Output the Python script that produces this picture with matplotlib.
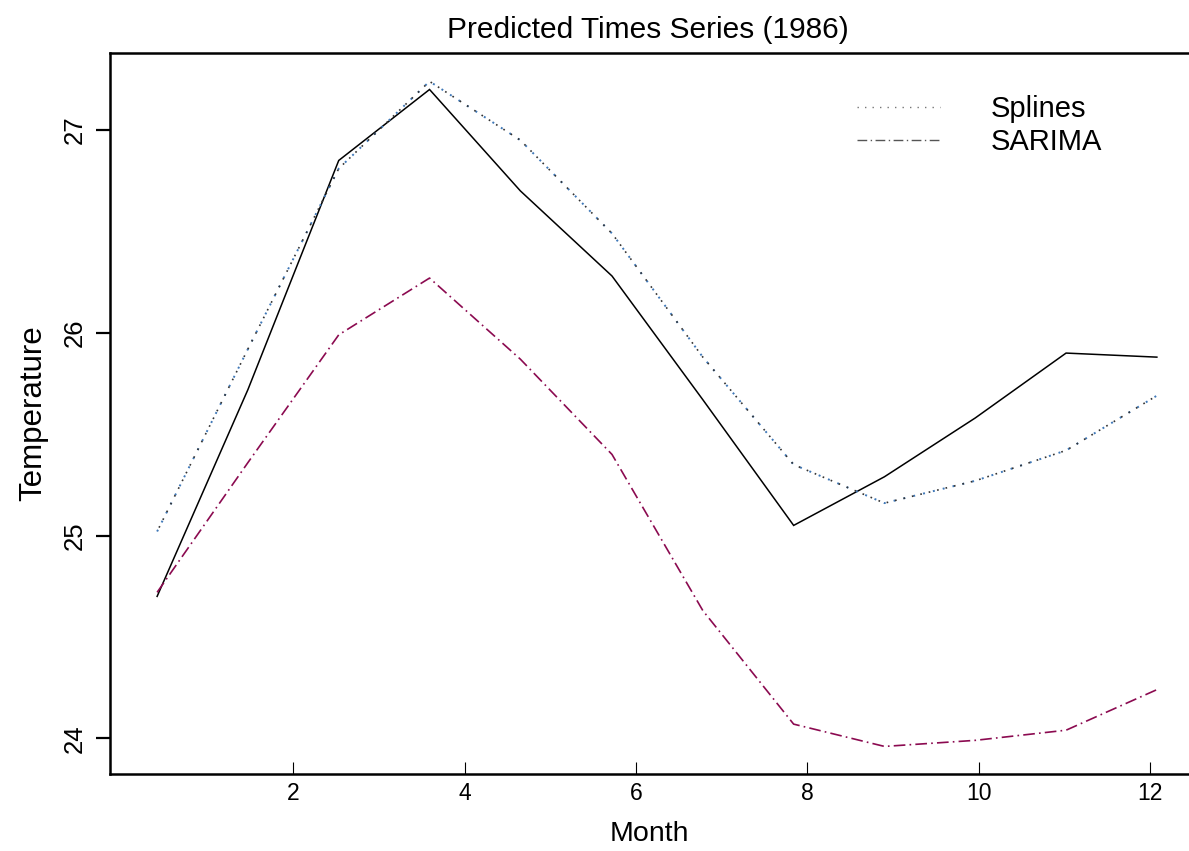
import matplotlib
matplotlib.use("Agg")
import matplotlib.pyplot as plt
from matplotlib.lines import Line2D

plt.rcParams['font.family'] = ['Liberation Sans', 'DejaVu Sans']

# Monthly positions of the forecasts for 1986
months = [0.41, 1.47, 2.53, 3.59, 4.65, 5.72, 6.78, 7.84, 8.90, 9.96, 11.02, 12.08]

# Observed temperature series
observed = [24.70, 25.72, 26.85, 27.20, 26.70, 26.28, 25.67, 25.05, 25.29, 25.58, 25.90, 25.88]

# Spline-based predictions
splines = [25.02, 25.92, 26.81, 27.24, 26.95, 26.49, 25.88, 25.35, 25.16, 25.27, 25.42, 25.69]

# SARIMA predictions
sarima = [24.72, 25.36, 25.99, 26.27, 25.87, 25.40, 24.63, 24.07, 23.96, 23.99, 24.04, 24.24]

x_ticks = [2, 4, 6, 8, 10, 12]
y_ticks = [24, 25, 26, 27]

W, H = 1189, 851
fig = plt.figure(figsize=(W / 100, H / 100), dpi=100)
ax = fig.add_axes([110 / W, 77 / H, 1 - 110 / W, 721 / H])

ax.plot(months, observed, color='black', lw=1.1, solid_joinstyle='miter')
ax.plot(months, splines, color='#3f78b8', lw=1.4, linestyle=(0, (1, 4.2)))
ax.plot(months, splines, color='#333333', lw=1.2, linestyle=(2.6, (1, 4.2)))
ax.plot(months, sarima, color='#8b0a50', lw=1.2, linestyle=(0, (7, 2.5, 1, 2.5)))

ax.set_xlim(-0.14, 12.455)
ax.set_ylim(23.824, 27.38)

ax.set_xticks(x_ticks)
ax.set_yticks(y_ticks)
ax.tick_params(axis='x', direction='in', length=8.5, width=0.8, pad=6, labelsize=16.5)
ax.tick_params(axis='y', direction='out', length=10, width=1.6, pad=7, labelsize=18.5)
for lab in ax.get_yticklabels():
    lab.set_rotation(90)
    lab.set_va('center')

for side in ('left', 'top', 'bottom'):
    ax.spines[side].set_linewidth(1.8)
ax.spines['right'].set_visible(False)

ax.set_xlabel('Month', fontsize=20.5, labelpad=11)
ax.set_ylabel('Temperature', fontsize=22.5, labelpad=10)

fig.text(648 / W, 1 - 30 / H, 'Predicted Times Series (1986)', ha='center', va='center', fontsize=21.5)

handles = [
    Line2D([], [], color='#777777', lw=1.0, linestyle=(0, (1, 4.4))),
    Line2D([], [], color='#555555', lw=1.0, linestyle=(0, (7, 2.5, 1, 2.5))),
]
ax.legend(handles, ['Splines', 'SARIMA'], loc='upper left',
          bbox_to_anchor=(857 / W, 1 - 95 / H), bbox_transform=fig.transFigure,
          frameon=False, fontsize=21, handlelength=2.85, handletextpad=1.75,
          labelspacing=0.17, borderpad=0, borderaxespad=0)

fig.savefig('out.png', dpi=100)
